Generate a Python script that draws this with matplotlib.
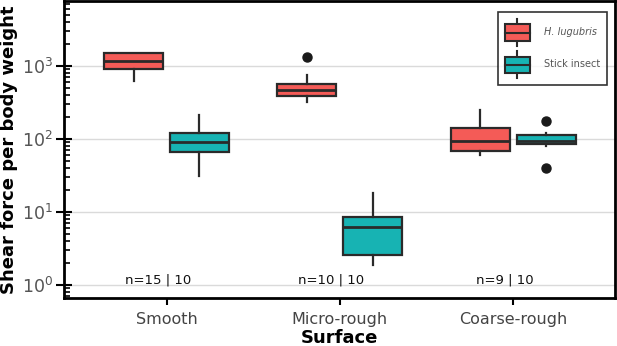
import matplotlib
matplotlib.use('Agg')
import matplotlib.pyplot as plt
from matplotlib.legend_handler import HandlerBase
from matplotlib.patches import Rectangle, Patch
from matplotlib.lines import Line2D

surfaces = ['Smooth', 'Micro-rough', 'Coarse-rough']
species = ['H. lugubris', 'Stick insect']
colors = ['#F45B57', '#17B3B3']
n_labels = ['n=15 | 10', 'n=10 | 10', 'n=9 | 10']

# box stats: [whislo, q1, med, q3, whishi]
gecko_stats = [
    [626, 904, 1162, 1476, 1476],
    [317, 383, 472, 564, 756],
    [60.7, 67.3, 92, 140, 249],
]
gecko_fliers = [[], [1331], []]
insect_stats = [
    [30.7, 66, 90, 120, 213],
    [1.87, 2.57, 6.12, 8.55, 18.2],
    [78.8, 85.5, 92, 113.6, 119.6],
]
insect_fliers = [[], [], [175, 39.8]]

edge = '#2a2a2a'


def to_bxp(stats, fliers):
    out = []
    for s, f in zip(stats, fliers):
        out.append(dict(whislo=s[0], q1=s[1], med=s[2], q3=s[3], whishi=s[4], fliers=f))
    return out


class BoxHandler(HandlerBase):
    # little boxplot glyph for the legend
    def create_artists(self, legend, orig_handle, xdescent, ydescent, width, height, fontsize, trans):
        c = orig_handle.get_facecolor()
        x0 = -xdescent
        y0 = -ydescent
        bh = height * 0.6
        yb = y0 + (height - bh) / 2
        xm = x0 + width / 2
        rect = Rectangle((x0, yb), width, bh, facecolor=c, edgecolor=edge, lw=1.5, transform=trans)
        med = Line2D([x0, x0 + width], [yb + bh / 2] * 2, color=edge, lw=1.5, transform=trans)
        wt = Line2D([xm, xm], [yb + bh, y0 + height], color=edge, lw=1.5, transform=trans)
        wb = Line2D([xm, xm], [yb, y0], color=edge, lw=1.5, transform=trans)
        return [wt, wb, rect, med]


fig = plt.figure(figsize=(6.17, 3.46), dpi=100)
ax = fig.add_axes([0.103, 0.139, 0.894, 0.858])

offset = 0.19
pos = list(range(len(surfaces)))
for i, (stats, fliers) in enumerate([(gecko_stats, gecko_fliers), (insect_stats, insect_fliers)]):
    sgn = -1 if i == 0 else 1
    ax.bxp(to_bxp(stats, fliers), positions=[p + sgn * offset for p in pos], widths=0.34,
           patch_artist=True, showcaps=False,
           boxprops=dict(facecolor=colors[i], edgecolor=edge, linewidth=1.6),
           medianprops=dict(color=edge, linewidth=2),
           whiskerprops=dict(color=edge, linewidth=1.6),
           flierprops=dict(marker='o', markerfacecolor='#1a1a1a', markeredgecolor='#1a1a1a',
                           markersize=6.5),
           zorder=3)

ax.set_yscale('log')
ax.set_ylim(0.665, 7700)
ax.set_xlim(-0.594, 2.588)
ax.set_xticks(pos)
ax.set_xticklabels(surfaces)
ax.grid(axis='y', which='major', color='#dadada', linewidth=1, zorder=0)
ax.set_axisbelow(True)

for p, t in zip(pos, n_labels):
    ax.text(p - 0.05, 1.17, t, ha='center', va='center', fontsize=9.5, color='#111111')

for s in ax.spines.values():
    s.set_linewidth(2)
    s.set_color('black')
ax.tick_params(axis='y', which='major', direction='inout', length=11, width=1.5,
               labelsize=12.5, labelcolor='#555555', pad=2)
ax.tick_params(axis='y', which='minor', direction='in', length=4, width=1.2)
ax.tick_params(axis='x', which='major', direction='out', length=5, width=1.5,
               labelsize=11.5, labelcolor='#444444', pad=5)

ax.set_ylabel('Shear force per body weight', fontsize=13, fontweight='bold')
ax.yaxis.set_label_coords(-0.083, 0.5)
ax.set_xlabel('Surface', fontsize=13, fontweight='bold', va='baseline')
ax.xaxis.set_label_coords(0.5, -0.152)

handles = [Patch(facecolor=c) for c in colors]
leg = ax.legend(handles, species, loc='upper right', handler_map={Patch: BoxHandler()},
                fontsize=7, frameon=True, fancybox=False, edgecolor='black',
                borderpad=0.72, labelspacing=0.52, handlelength=2.6, handleheight=3.9,
                handletextpad=1.45, borderaxespad=0,
                bbox_to_anchor=(0.9855, 0.963))
leg.get_frame().set_linewidth(1.2)
for t in leg.get_texts():
    t.set_color('#555555')
leg.get_texts()[0].set_style('italic')

fig.savefig('out.png', dpi=100)
